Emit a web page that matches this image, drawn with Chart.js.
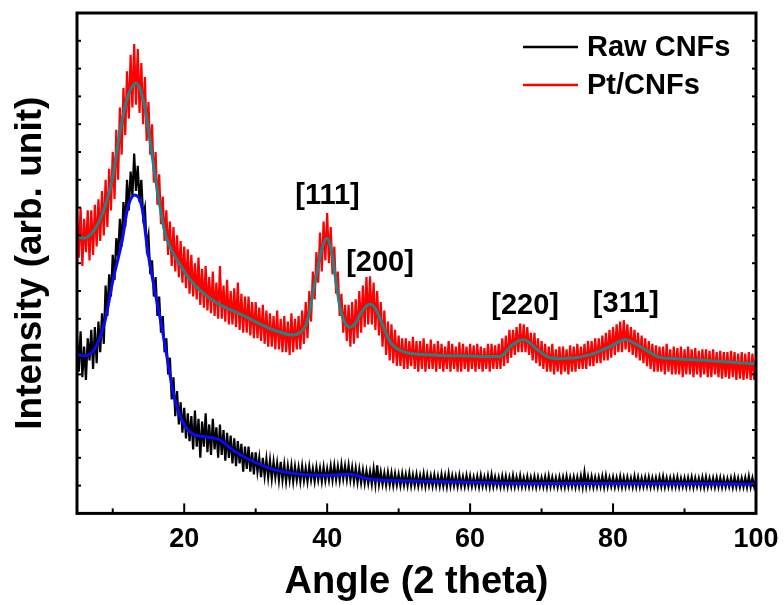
<!DOCTYPE html>
<html><head><meta charset="utf-8">
<script src="https://cdn.jsdelivr.net/npm/chart.js@4/dist/chart.umd.min.js"></script>
<style>html,body{margin:0;padding:0;background:#fff;}#wrap{width:784px;height:605px;position:relative;}</style>
</head><body><div id="wrap"><canvas id="c" width="784" height="605"></canvas></div>
<script>
// ---- data ----
const angleStart = 5, angleStep = 0.25; // sampling grid of the measured patterns (2 theta)
const rawCNFs = [
 6.4, 5.1, 6.55, 4.9, 6.0, 4.8, 6.3, 5.5,
 6.6, 5.2, 6.7, 5.4, 6.9, 5.8, 7.2, 6.1,
 8.2, 7.1, 8.6, 7.8, 9.3, 8.4, 9.9, 9.2,
 10.6, 9.6, 11.2, 10.3, 12.0, 10.9, 12.3, 11.4,
 12.94, 11.6, 12.5, 11.2, 12.0, 10.7, 11.0, 9.6,
 10.0, 8.6, 9.1, 7.8, 8.5, 7.1, 7.8, 6.5,
 7.1, 5.8, 6.3, 5.0, 5.6, 4.1, 4.9, 3.5,
 4.4, 3.2, 4.0, 2.9, 3.8, 2.7, 3.6, 2.6,
 3.5, 2.3, 3.7, 2.4, 3.4, 2.0, 3.3, 2.4,
 3.6, 2.2, 3.2, 2.1, 3.4, 2.3, 3.1, 2.0,
 3.2, 2.1, 3.0, 1.9, 2.9, 2.0, 2.8, 1.8,
 2.7, 1.7, 2.6, 1.8, 2.5, 1.5, 2.4, 1.6,
 2.4, 1.5, 2.2, 1.4, 2.2, 1.5, 2.0, 1.3,
 2.0, 1.35, 1.95, 1.3, 1.9, 1.25, 1.85, 1.3,
 1.8, 1.2, 1.85, 1.2, 1.75, 1.15, 1.7, 1.2,
 1.72, 1.15, 1.68, 1.2, 1.65, 1.15, 1.7, 1.18,
 1.62, 1.15, 1.68, 1.2, 1.6, 1.15, 1.65, 1.2,
 1.62, 1.15, 1.66, 1.18, 1.6, 1.2, 1.7, 1.2,
 1.72, 1.22, 1.68, 1.2, 1.75, 1.25, 1.7, 1.22,
 1.72, 1.2, 1.65, 1.15, 1.62, 1.12, 1.58, 1.1,
 1.55, 1.08, 1.52, 1.08, 1.5, 1.05, 1.6, 1.05,
 1.73, 1.05, 1.48, 1.05, 1.45, 1.02, 1.47, 1.03,
 1.45, 1.0, 1.42, 1.02, 1.4, 1.0, 1.43, 1.02,
 1.4, 1.0, 1.44, 0.99, 1.38, 1.01, 1.4, 0.99,
 1.36, 1.0, 1.42, 0.98, 1.38, 1.0, 1.35, 0.98,
 1.38, 0.99, 1.34, 0.98, 1.4, 0.99, 1.36, 0.97,
 1.42, 0.98, 1.35, 0.99, 1.33, 0.97, 1.37, 0.98,
 1.32, 0.97, 1.36, 0.98, 1.34, 0.97, 1.3, 0.98,
 1.33, 0.96, 1.36, 0.98, 1.3, 0.97, 1.35, 0.96,
 1.38, 0.97, 1.31, 0.98, 1.3, 0.96, 1.34, 0.97,
 1.33, 0.96, 1.3, 0.97, 1.36, 0.96, 1.3, 0.98,
 1.35, 0.96, 1.28, 0.97, 1.32, 0.96, 1.29, 0.97,
 1.32, 0.95, 1.3, 0.97, 1.28, 0.96, 1.31, 0.95,
 1.34, 0.96, 1.29, 0.97, 1.28, 0.95, 1.3, 0.96,
 1.3, 0.95, 1.33, 0.96, 1.29, 0.97, 1.31, 0.95,
 1.3, 0.96, 1.34, 0.95, 1.47, 0.96, 1.32, 0.97,
 1.32, 0.95, 1.29, 0.96, 1.3, 0.97, 1.33, 0.95,
 1.35, 0.96, 1.28, 0.97, 1.3, 0.95, 1.28, 0.96,
 1.32, 0.95, 1.29, 0.96, 1.3, 0.97, 1.27, 0.95,
 1.33, 0.96, 1.3, 0.95, 1.27, 0.96, 1.29, 0.97,
 1.3, 0.95, 1.27, 0.96, 1.28, 0.95, 1.3, 0.96,
 1.32, 0.95, 1.27, 0.96, 1.27, 0.95, 1.29, 0.96,
 1.3, 0.95, 1.26, 0.96, 1.27, 0.95, 1.28, 0.96,
 1.3, 0.94, 1.27, 0.96, 1.26, 0.95, 1.29, 0.94,
 1.3, 0.95, 1.26, 0.96, 1.27, 0.94, 1.28, 0.95,
 1.28, 0.94, 1.26, 0.95, 1.25, 0.96, 1.27, 0.94,
 1.3, 0.95, 1.26, 0.94, 1.26, 0.95, 1.28, 0.94,
 1.33, 0.95, 1.27, 0.96, 1.25
];
const ptCNFs = [
 10.9, 9.2, 11.0, 8.9, 10.6, 9.4, 10.9, 9.1,
 10.9, 9.3, 11.1, 9.6, 11.3, 9.8, 11.6, 10.0,
 12.0, 10.3, 12.4, 10.9, 13.0, 11.3, 13.8, 12.0,
 14.6, 12.9, 15.3, 13.6, 15.9, 14.2, 16.5, 14.6,
 16.88, 14.7, 16.7, 14.4, 16.2, 14.0, 15.7, 13.4,
 14.8, 12.9, 14.0, 11.9, 13.0, 11.1, 12.2, 10.4,
 11.4, 9.8, 10.9, 9.3, 10.5, 8.9, 10.3, 8.7,
 10.0, 8.5, 9.8, 8.3, 9.6, 8.1, 9.5, 7.9,
 9.3, 7.8, 9.0, 7.7, 9.2, 7.5, 8.8, 7.4,
 8.9, 7.3, 8.5, 7.2, 8.7, 7.1, 8.3, 7.0,
 8.9, 7.0, 8.2, 6.9, 8.4, 6.8, 8.0, 6.8,
 8.1, 6.7, 8.3, 6.6, 7.9, 6.5, 7.8, 6.5,
 7.8, 6.4, 7.6, 6.3, 7.6, 6.3, 7.4, 6.2,
 7.5, 6.1, 7.3, 6.0, 7.2, 6.0, 7.1, 5.9,
 7.3, 5.9, 7.0, 5.8, 7.1, 5.8, 6.9, 5.7,
 7.2, 5.8, 7.0, 5.9, 7.1, 5.9, 7.3, 6.1,
 7.6, 6.3, 8.0, 6.9, 8.7, 7.7, 9.4, 8.3,
 10.1, 8.7, 10.5, 9.1, 10.8, 9.0, 10.3, 8.6,
 9.6, 7.9, 8.7, 7.1, 7.9, 6.5, 7.5, 6.2,
 7.5, 6.0, 7.6, 6.1, 7.7, 6.3, 8.0, 6.5,
 8.2, 6.7, 8.5, 6.8, 8.53, 6.8, 8.3, 6.6,
 8.0, 6.4, 7.6, 6.0, 7.3, 5.7, 6.9, 5.5,
 6.8, 5.4, 6.6, 5.3, 6.4, 5.3, 6.3, 5.2,
 6.3, 5.2, 6.2, 5.3, 6.35, 5.2, 6.2, 5.1,
 6.2, 5.2, 6.3, 5.1, 6.1, 5.2, 6.25, 5.2,
 6.1, 5.1, 6.2, 5.2, 6.1, 5.1, 6.0, 5.2,
 6.2, 5.1, 6.1, 5.2, 6.0, 5.1, 6.15, 5.1,
 6.1, 5.2, 6.0, 5.1, 6.1, 5.2, 6.05, 5.1,
 6.1, 5.2, 6.0, 5.1, 5.95, 5.2, 6.1, 5.1,
 6.1, 5.2, 6.05, 5.2, 6.1, 5.2, 6.3, 5.3,
 6.4, 5.4, 6.6, 5.6, 6.6, 5.7, 6.7, 5.8,
 6.83, 5.8, 6.8, 5.8, 6.7, 5.7, 6.5, 5.5,
 6.5, 5.4, 6.3, 5.3, 6.2, 5.2, 6.1, 5.1,
 6.0, 5.1, 6.1, 5.0, 5.9, 5.1, 6.0, 5.0,
 6.0, 5.1, 5.9, 5.0, 6.05, 5.1, 6.0, 5.1,
 6.1, 5.2, 6.0, 5.2, 6.1, 5.2, 6.2, 5.3,
 6.2, 5.3, 6.3, 5.4, 6.3, 5.4, 6.4, 5.5,
 6.5, 5.5, 6.6, 5.6, 6.7, 5.7, 6.8, 5.8,
 6.9, 5.8, 6.95, 5.9, 6.8, 5.8, 6.7, 5.7,
 6.6, 5.6, 6.5, 5.5, 6.4, 5.4, 6.3, 5.3,
 6.2, 5.2, 6.1, 5.1, 6.05, 5.1, 6.0, 5.1,
 6.0, 5.0, 6.1, 5.1, 5.9, 5.0, 6.0, 5.0,
 5.95, 5.0, 6.0, 4.9, 5.9, 5.0, 6.0, 5.0,
 5.9, 4.9, 5.95, 5.0, 5.85, 4.9, 5.9, 5.0,
 5.9, 4.9, 5.85, 4.9, 5.9, 5.0, 5.8, 4.9,
 5.85, 4.85, 5.8, 4.9, 5.8, 4.85, 5.85, 4.9,
 5.8, 4.8, 5.75, 4.85, 5.8, 4.8, 5.75, 4.85,
 5.8, 4.8, 5.75, 4.8, 5.7
];
const rawFitAngles = [5, 6.1, 7.5, 8.9, 10, 11.3, 12.1, 13.1, 14.1, 14.9, 15.9, 16.9, 17.7, 18.5, 19.8, 21.2, 23.2, 25, 26.8, 29.2, 32.4, 36.2, 40, 43.2, 46, 54.4, 68.4, 82.4, 100];
const rawFitValues = [5.71, 5.67, 5.93, 6.9, 8.35, 9.79, 10.99, 11.45, 10.99, 9.43, 7.99, 6.65, 5.46, 4.3, 3.29, 2.86, 2.75, 2.64, 2.28, 1.92, 1.59, 1.41, 1.37, 1.41, 1.23, 1.16, 1.08, 1.08, 1.05];
const ptFitAngles = [5, 6, 7.5, 9, 10, 11, 12, 13.25, 14.5, 15, 15.5, 16, 16.5, 17.3, 18, 19.1, 21, 23, 25, 28, 32, 35.2, 36.2, 37.2, 38, 38.6, 39.3, 40, 40.6, 41.2, 41.8, 42.5, 43.2, 44, 44.6, 46, 46.8, 47.4, 48.8, 50.6, 54, 60, 64.2, 65.9, 67.5, 69.4, 71.2, 73, 76.8, 79.6, 81.7, 83.8, 86.2, 88.4, 93.1, 100];
const ptFitValues = [9.97, 9.9, 10.22, 11.1, 12.1, 13.7, 14.9, 15.47, 14.6, 13.8, 12.9, 12.0, 11.2, 10.1, 9.6, 9.07, 8.35, 7.85, 7.5, 7.15, 6.65, 6.42, 6.5, 6.9, 7.9, 8.7, 9.55, 9.9, 9.45, 8.4, 7.4, 6.85, 6.7, 6.85, 7.16, 7.52, 7.35, 7.0, 6.18, 5.82, 5.71, 5.66, 5.64, 6.07, 6.25, 5.89, 5.6, 5.57, 5.71, 6.0, 6.25, 6.0, 5.64, 5.57, 5.5, 5.38];
const xTickLabels = [20, 40, 60, 80, 100];
const seriesNames = ['Raw CNFs', 'Pt/CNFs'];
const seriesColors = ['#000000', '#FF0000'];
const peakLabels = ['[111]', '[200]', '[220]', '[311]'];
const peakLabelAngles = [40.05, 47.4, 67.7, 81.8];
const peakLabelHeights = [11.13, 8.71, 7.16, 7.26];

// ---- build library data ----
const toPairs = (vals) => vals.map((v, i) => ({ x: angleStart + i * angleStep, y: v }));
const zipPairs = (xs, ys) => xs.map((x, i) => ({ x: x, y: ys[i] }));

const FONT = '"Liberation Sans", Arial, sans-serif';
Chart.defaults.font.family = FONT;
Chart.defaults.color = '#000';

const decorPlugin = {
  id: 'decor',
  afterDatasetsDraw(chart) {
    const { ctx, chartArea: a, scales: { x, y } } = chart;
    const line = (x1, y1, x2, y2) => { ctx.beginPath(); ctx.moveTo(x1, y1); ctx.lineTo(x2, y2); ctx.stroke(); };
    ctx.save();
    ctx.strokeStyle = '#000';
    ctx.lineWidth = 3;
    ctx.strokeRect(a.left, a.top, a.right - a.left, a.bottom - a.top);
    ctx.lineWidth = 2;
    for (let v = 10; v < 100; v += 10) {
      const px = x.getPixelForValue(v);
      const len = v % 20 === 0 ? 10 : 5;
      line(px, a.bottom, px, a.bottom - len);
    }
    for (let v = 1; v < 18; v++) {
      const py = y.getPixelForValue(v);
      line(a.left, py, a.left + 4, py);
      line(a.right, py, a.right - 4, py);
    }
    // peak labels
    ctx.fillStyle = '#000';
    ctx.font = 'bold 29px ' + FONT;
    ctx.textAlign = 'center';
    ctx.textBaseline = 'alphabetic';
    peakLabels.forEach((t, i) => {
      ctx.fillText(t, x.getPixelForValue(peakLabelAngles[i]), y.getPixelForValue(peakLabelHeights[i]));
    });
    // legend
    ctx.font = 'bold 29px ' + FONT;
    ctx.textAlign = 'left';
    ctx.lineWidth = 2.5;
    seriesNames.forEach((name, i) => {
      const ly = a.top + 34 + i * 38;
      ctx.strokeStyle = seriesColors[i];
      line(a.right - 233, ly, a.right - 178, ly);
      ctx.fillText(name, a.right - 169, ly + 9);
    });
    ctx.restore();
  }
};

new Chart(document.getElementById('c'), {
  type: 'line',
  data: {
    datasets: [
      { label: 'Raw CNFs fit', data: zipPairs(rawFitAngles, rawFitValues), borderColor: '#0A0AF5', borderWidth: 3, cubicInterpolationMode: 'monotone' },
      { label: seriesNames[0], data: toPairs(rawCNFs), borderColor: seriesColors[0], borderWidth: 2.2, tension: 0 },
      { label: 'Pt/CNFs fit', data: zipPairs(ptFitAngles, ptFitValues), borderColor: '#2A8080', borderWidth: 3, cubicInterpolationMode: 'monotone' },
      { label: seriesNames[1], data: toPairs(ptCNFs), borderColor: seriesColors[1], borderWidth: 2.2, tension: 0 }
    ]
  },
  options: {
    responsive: false,
    animation: false,
    devicePixelRatio: 1,
    layout: { padding: { left: 4, right: 28, top: 13, bottom: 1 } },
    elements: { point: { radius: 0 }, line: { fill: false } },
    plugins: { legend: { display: false }, tooltip: { enabled: false } },
    scales: {
      x: {
        type: 'linear', min: 5, max: 100,
        afterBuildTicks: (s) => { s.ticks = xTickLabels.map(v => ({ value: v })); },
        afterFit: (s) => { s.paddingRight = 0; },
        ticks: { autoSkip: false, maxRotation: 0, padding: 10, color: '#000', font: { size: 27, weight: 'bold' } },
        grid: { display: false, drawTicks: false }, border: { display: false },
        title: { display: true, text: 'Angle (2 theta)', color: '#000', font: { size: 38, weight: 'bold', lineHeight: 0.9 }, padding: { top: 0, bottom: 4 } }
      },
      y: {
        type: 'linear', min: 0, max: 18,
        ticks: { display: false },
        grid: { display: false, drawTicks: false }, border: { display: false },
        title: { display: true, text: 'Intensity (arb. unit)', color: '#000', font: { size: 37, weight: 'bold' }, padding: { top: 5, bottom: 23.6 } }
      }
    }
  },
  plugins: [decorPlugin]
});
</script>
</body></html>
